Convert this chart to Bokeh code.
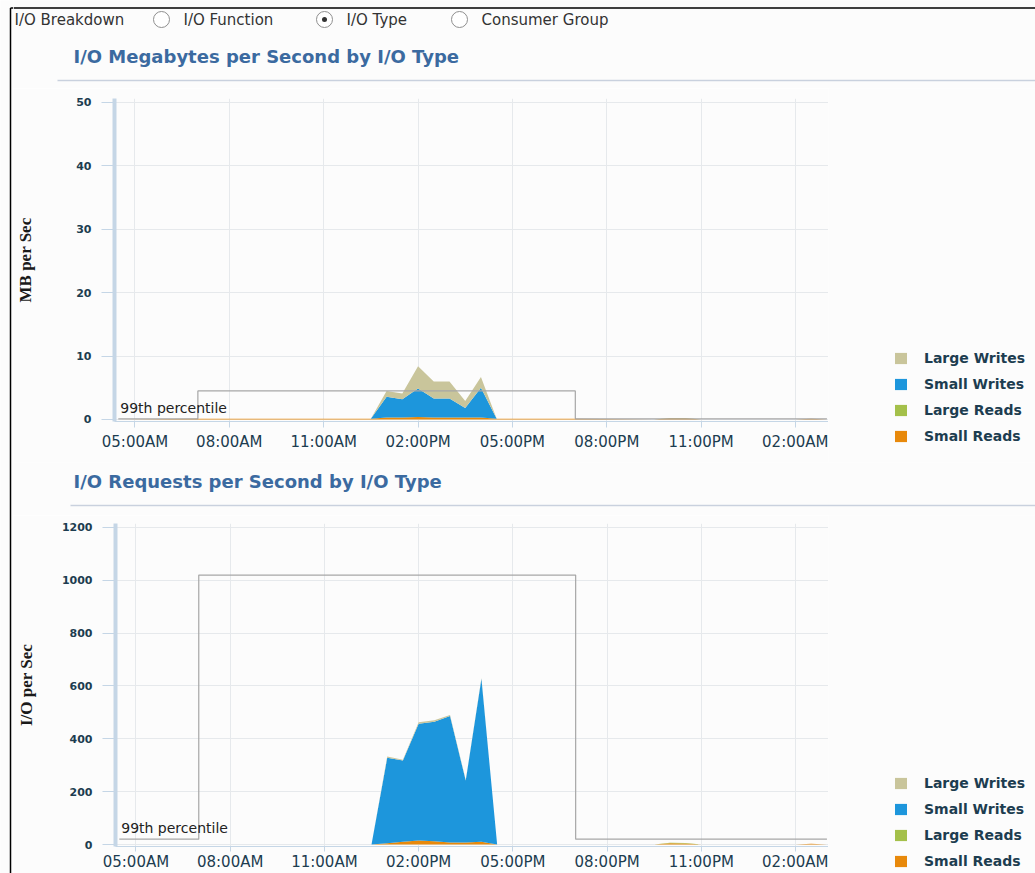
from bokeh.plotting import figure
from bokeh.layouts import column, row
from bokeh.models import (Range1d, FixedTicker, SingleIntervalTicker, Legend, LegendItem,
                          ColumnDataSource, Label)
from bokeh.core.properties import value
from bokeh.embed import file_html
from bokeh.resources import INLINE

# ---------------- data ----------------
# sample times in hours since midnight of the first day (values > 24 are the next day)
times = [4.5, 7.0, 12.5, 13.0, 13.5, 14.0, 14.5, 15.0, 15.5, 16.0, 16.5,
         19.0, 21.5, 22.0, 22.5, 23.0, 26.0, 26.5, 27.0]

mb_small_reads  = [0, 0.1, 0.1, 0.3, 0.3, 0.4, 0.3, 0.3, 0.3, 0.3, 0.1, 0.1, 0, 0.2, 0.2, 0, 0, 0.1, 0]
mb_large_reads  = [0, 0, 0, 0, 0, 0, 0, 0, 0, 0, 0, 0, 0, 0.05, 0.05, 0, 0, 0, 0]
mb_small_writes = [0, 0, 0, 3.3, 2.9, 4.5, 3.0, 3.0, 1.5, 4.7, 0, 0, 0, 0, 0, 0, 0, 0, 0]
mb_large_writes = [0, 0, 0, 0.9, 0.9, 3.5, 2.7, 2.7, 1.1, 1.7, 0, 0, 0, 0, 0, 0, 0, 0, 0]

io_small_reads  = [0, 0, 0, 5, 10, 15, 12, 8, 8, 10, 0, 0, 0, 5, 4, 0, 0, 3, 0]
io_large_reads  = [0, 0, 0, 0, 0, 0, 0, 0, 0, 0, 0, 0, 0, 2, 2, 0, 0, 0, 0]
io_small_writes = [0, 0, 0, 323, 308, 442, 453, 478, 234, 617, 0, 0, 0, 0, 0, 0, 0, 0, 0]
io_large_writes = [0, 0, 0, 5, 3, 6, 5, 4, 2, 3, 0, 0, 0, 0, 0, 0, 0, 0, 0]

series_names = ["Small Reads", "Large Reads", "Small Writes", "Large Writes"]
series_colors = ["#e8890b", "#a4c04a", "#1d96dc", "#c9c59b"]

tick_hours = [5, 8, 11, 14, 17, 20, 23, 26]
tick_labels = ["05:00AM", "08:00AM", "11:00AM", "02:00PM", "05:00PM", "08:00PM", "11:00PM", "02:00AM"]

# 99th percentile window and levels
p99_start, p99_end = 7.0, 19.0
p99_line_start, p99_line_end = 4.47, 27.0
mb_p99_low, mb_p99_high = 0.1, 4.5
io_p99_low, io_p99_high = 20, 1020

titles = ["I/O Megabytes per Second by I/O Type", "I/O Requests per Second by I/O Type"]
radio_labels = ["I/O Function", "I/O Type", "Consumer Group"]
selected_radio = "I/O Type"

# ---------------- style ----------------
BG = "#fcfcfc"
AXIS_BLUE = "#c5d6e6"
GRID = "#e6e9ec"
LABEL_COL = "#1d3d50"
TITLE_COL = "#3b6aa0"
SEP_COL = "#c9d1de"
FONT = "DejaVu Sans"

STRIP_W = 13
W = 1035 - STRIP_W       # main column width
CHART_W = 828 - STRIP_W  # chart figure width (frame ends at page x 828)
LEG_W = W - CHART_W      # legend figure width
X_RANGE = (4.349, 27.05)


def blank_fig(w, h):
    return figure(width=w, height=h, x_range=Range1d(0, w), y_range=Range1d(h, 0),
                  x_axis_type=None, y_axis_type=None, output_backend="svg",
                  toolbar_location=None, min_border=0, outline_line_color=None,
                  background_fill_color=BG, border_fill_color=BG, frame_align=False)


def header_fig(h, title, sep_x0, title_y, sep_y, with_radios=False):
    p = blank_fig(W, h)
    if with_radios:
        p.segment(x0=[0], y0=[7.5], x1=[W], y1=[7.5], line_color="black", line_width=1.5)
        p.text(x=[1], y=[19], text=["I/O Breakdown"], text_font=value(FONT),
               text_font_size="15px", text_baseline="middle", text_color="#333333")
        rx = [148, 311, 446]
        lx = [170, 333, 468]
        p.scatter(x=rx, y=[19] * 3, size=16, marker="circle", fill_color="white",
                  line_color="#8f8f8f", line_width=1)
        sel = [rx[i] for i, l in enumerate(radio_labels) if l == selected_radio]
        p.scatter(x=sel, y=[19] * len(sel), size=5, marker="circle", fill_color="#333333",
                  line_color=None)
        p.text(x=lx, y=[19] * 3, text=radio_labels, text_font=value(FONT),
               text_font_size="15px", text_baseline="middle", text_color="#333333")
    p.text(x=[60], y=[title_y], text=[title], text_font=value(FONT), text_font_size="18px",
           text_font_style="bold", text_baseline="middle", text_color=TITLE_COL)
    p.segment(x0=[sep_x0], y0=[sep_y], x1=[W], y1=[sep_y], line_color=SEP_COL, line_width=1.5)
    return p


def chart_fig(h, top, bottom, y_rng, interval, ylabel, ylabel_standoff, stacks,
              p99_low, p99_high, tick_out, label_standoff):
    p = figure(width=CHART_W, height=h, x_range=Range1d(*X_RANGE), y_range=Range1d(*y_rng),
               output_backend="svg", toolbar_location=None, frame_align=False,
               min_border_left=113 - STRIP_W, min_border_right=0, min_border_top=top,
               min_border_bottom=bottom, outline_line_color=None,
               background_fill_color=BG, border_fill_color=BG)
    src = ColumnDataSource(dict(t=times, **{n: v for n, v in zip(series_names, stacks)}))
    p.varea_stack(stackers=series_names, x="t", color=series_colors, source=src)

    # 99th percentile step line
    p.step(x=[p99_line_start, p99_start, p99_end, p99_line_end],
           y=[p99_low, p99_high, p99_low, p99_low], mode="after",
           line_color="#a6a6a6", line_width=1.2)
    p.add_layout(Label(x=4.5, y=p99_low, text="99th percentile", text_font=FONT,
                       text_font_size="14px", text_color="#222222",
                       text_baseline="bottom", y_offset=3, x_offset=1))

    # x axis
    xa = p.xaxis[0]
    xa.ticker = FixedTicker(ticks=tick_hours)
    xa.major_label_overrides = {t: l for t, l in zip(tick_hours, tick_labels)}
    xa.axis_line_color = AXIS_BLUE
    xa.major_tick_line_color = AXIS_BLUE
    xa.major_tick_out = tick_out
    xa.major_tick_in = 0
    xa.minor_tick_line_color = None
    xa.major_label_text_font = FONT
    xa.major_label_text_font_size = "15px"
    xa.major_label_text_color = LABEL_COL
    xa.major_label_standoff = label_standoff

    # y axis
    ya = p.yaxis[0]
    ya.ticker = SingleIntervalTicker(interval=interval, num_minor_ticks=0)
    ya.axis_line_color = AXIS_BLUE
    ya.axis_line_width = 4
    ya.major_tick_line_color = AXIS_BLUE
    ya.major_tick_out = 13
    ya.major_tick_in = 0
    ya.minor_tick_line_color = None
    ya.major_label_text_font = FONT
    ya.major_label_text_font_size = "11px"
    ya.major_label_text_font_style = "bold"
    ya.major_label_text_color = LABEL_COL
    ya.major_label_standoff = 10
    ya.axis_label = ylabel
    ya.axis_label_text_font = "Liberation Serif"
    ya.axis_label_text_font_style = "bold"
    ya.axis_label_text_font_size = "17px"
    ya.axis_label_text_color = "#1a1a1a"
    ya.axis_label_standoff = ylabel_standoff

    p.xgrid.grid_line_color = GRID
    p.ygrid.grid_line_color = GRID
    return p


def legend_fig(h, loc):
    p = blank_fig(LEG_W, h)
    rends = [p.varea(x=[0, 1], y1=[-50, -50], y2=[-50, -50], fill_color=c)
             for c in series_colors]
    items = [LegendItem(label=series_names[i], renderers=[rends[i]]) for i in (3, 2, 1, 0)]
    leg = Legend(items=items, location=loc, orientation="vertical",
                 glyph_width=15, glyph_height=14, label_height=16, spacing=10,
                 label_standoff=16, padding=0, margin=0, border_line_color=None,
                 background_fill_alpha=0, label_text_font=FONT,
                 label_text_font_size="14px", label_text_font_style="bold",
                 label_text_color=LABEL_COL, label_text_baseline="middle")
    p.add_layout(leg, "center")
    return p


strip = blank_fig(STRIP_W, 873)
strip.segment(x0=[10, 10], y0=[7.5, 7.5], x1=[10, STRIP_W], y1=[873, 7.5],
              line_color="black", line_width=1.5)

head1 = header_fig(88, titles[0], 57 - STRIP_W, 56, 80, with_radios=True)
chart1 = chart_fig(374, 10, 41, (-0.3155, 50.63), 10, "MB per Sec", 38,
                   [mb_small_reads, mb_large_reads, mb_small_writes, mb_large_writes],
                   mb_p99_low, mb_p99_high, 6, 5)
leg1 = legend_fig(374, (65, 18))
head2 = header_fig(53, titles[1], 70 - STRIP_W, 19, 43)
chart2 = chart_fig(358, 8, 27, (-7.57, 1215.1), 200, "I/O per Sec", 23,
                   [io_small_reads, io_large_reads, io_small_writes, io_large_writes],
                   io_p99_low, io_p99_high, 5, 1)
leg2 = legend_fig(358, (65, 4))

layout = row(strip, column(head1, row(chart1, leg1), head2, row(chart2, leg2)))

open("out.html", "w").write(file_html(layout, INLINE))
